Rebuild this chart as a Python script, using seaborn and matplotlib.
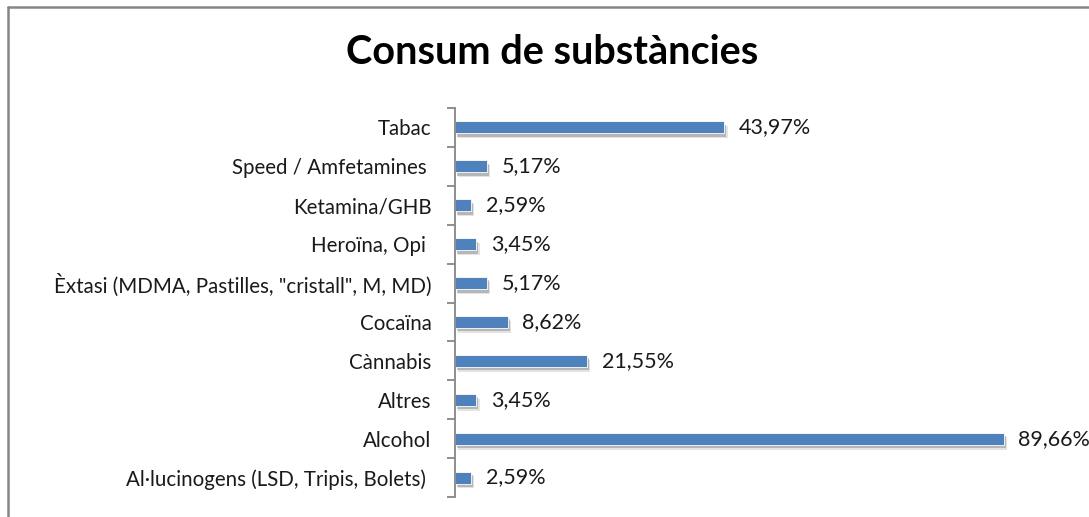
import matplotlib
matplotlib.use("Agg")
import matplotlib.pyplot as plt
import matplotlib.patheffects as pe
from matplotlib.lines import Line2D
import seaborn as sns
import pandas as pd

categories = [
    "Tabac",
    "Speed / Amfetamines ",
    "Ketamina/GHB",
    "Heroïna, Opi ",
    "Èxtasi (MDMA, Pastilles, \"cristall\", M, MD)",
    "Cocaïna",
    "Cànnabis",
    "Altres",
    "Alcohol",
    "Al·lucinogens (LSD, Tripis, Bolets) ",
]
values = [43.97, 5.17, 2.59, 3.45, 5.17, 8.62, 21.55, 3.45, 89.66, 2.59]
title = "Consum de substàncies"

df = pd.DataFrame({"cat": categories, "val": values})

sns.set_theme(style="white")
plt.rcParams["font.family"] = ["Lato", "DejaVu Sans"]

W, H = 1089, 517
fig = plt.figure(figsize=(W / 100, H / 100), dpi=100)
fig.patch.set_facecolor("white")

# axes box in pixels: left 455, right 1067, top 108, bottom 497
ax = fig.add_axes([455 / W, 1 - 497 / H, (1067 - 455) / W, (497 - 108) / H])
sns.barplot(data=df, x="val", y="cat", orient="h", color="#4F81BD",
            saturation=1, width=0.31, ax=ax)

# soft drop shadow under each bar
for p in ax.patches:
    p.set_path_effects([
        pe.SimplePatchShadow(offset=(2.5, -3.5), shadow_rgbFace="#b0b0b0", alpha=0.35),
        pe.SimplePatchShadow(offset=(1.5, -2.5), shadow_rgbFace="#8a8a8a", alpha=0.5),
        pe.Normal(),
    ])
    p.set_edgecolor("white")
    p.set_linewidth(0.6)

ax.set_xlim(0, 100)
ax.set_ylim(len(categories) - 0.5, -0.5)
ax.set_xlabel("")
ax.set_ylabel("")
ax.set_xticks([])
for s in ["top", "right", "bottom"]:
    ax.spines[s].set_visible(False)
ax.spines["left"].set_color("#868686")
ax.spines["left"].set_linewidth(1.3)

# ticks at category boundaries, labels centered on bars
ax.set_yticks([i - 0.5 for i in range(len(categories) + 1)], minor=False)
ax.set_yticklabels([])
ax.set_yticks(range(len(categories)), minor=True)
ax.set_yticklabels(categories, minor=True, fontsize=14.8, color="#1a1a1a")
ax.tick_params(axis="y", which="major", length=6, width=1.3, color="#868686", direction="out", left=True)
ax.tick_params(axis="y", which="minor", length=0, pad=17)

for i, v in enumerate(values):
    ax.text(v + 2.4, i, f"{v:.2f}%".replace(".", ","), va="center", ha="left",
            fontsize=15.5, color="#1a1a1a")

fig.text(552 / W, 1 - 52 / H, title, ha="center", va="center",
         fontsize=28.5, fontweight="bold", color="black")

# chart-area frame on the left and top edges
fig.add_artist(Line2D([7.5 / W, 7.5 / W], [0, 1 - 6.5 / H], transform=fig.transFigure,
                      color="#868686", linewidth=1.8))
fig.add_artist(Line2D([7.5 / W, 1], [1 - 6.5 / H, 1 - 6.5 / H], transform=fig.transFigure,
                      color="#868686", linewidth=1.8))

fig.savefig("out.png", dpi=100)
